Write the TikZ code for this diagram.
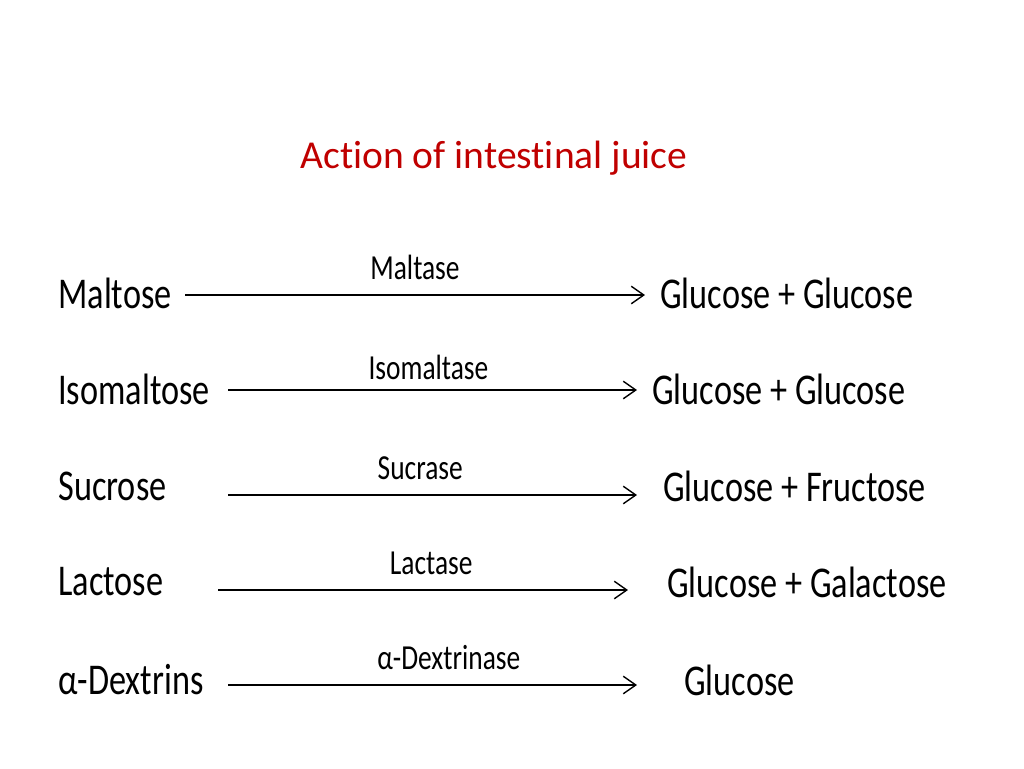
\documentclass[tikz,border=0pt]{standalone}
\usepackage{fontspec}
\setmainfont[Ligatures=NoCommon]{Carlito}
\newfontfamily\narrowfont[FakeStretch=0.78]{Carlito}
\usetikzlibrary{arrows.meta,positioning}
\begin{document}
\begin{tikzpicture}[x=0.02cm,y=-0.02cm,
	sugar/.style={anchor=west,inner sep=0pt,font=\narrowfont\fontsize{25}{28}\selectfont},
	enzyme/.style={above,inner sep=0pt,yshift=0.3cm,font=\narrowfont\fontsize{20}{22}\selectfont},
	react/.style={line width=0.8pt,-{Straight Barb[length=2.5mm,width=3.5mm]}}]
	\useasboundingbox (0,0) rectangle (1024,768);
	\node [text={rgb,255:red,192;green,0;blue,0},font=\fontsize{22.5}{26}\selectfont] (title_node) at (494,158) {Action of intestinal juice};
	% rows
	\node [sugar](maltose_node) at (58,293) {Maltose};
	\node [sugar](maltose_prod) at (660,293) {Glucose + Glucose};
	\coordinate (maltose_a) at (185,295);
	\coordinate (maltose_b) at (645,295);
	\node [sugar](isomaltose_node) at (58,389) {Isomaltose};
	\node [sugar](isomaltose_prod) at (652,389) {Glucose + Glucose};
	\coordinate (isomaltose_a) at (228,390);
	\coordinate (isomaltose_b) at (637,390);
	\node [sugar](sucrose_node) at (58,486) {Sucrose};
	\node [sugar](sucrose_prod) at (663,486) {Glucose + Fructose};
	\coordinate (sucrose_a) at (228,495);
	\coordinate (sucrose_b) at (637,495);
	\node [sugar](lactose_node) at (58,582) {Lactose};
	\node [sugar](lactose_prod) at (667,582) {Glucose + Galactose};
	\coordinate (lactose_a) at (218,590);
	\coordinate (lactose_b) at (628,590);
	\node [sugar](dextrins_node) at (58,680) {α-Dextrins};
	\node [sugar](dextrins_prod) at (684,680) {Glucose};
	\coordinate (dextrins_a) at (228,685);
	\coordinate (dextrins_b) at (637,685);
	\draw [react] (maltose_a) -- node [enzyme, pos=0.5] {Maltase} (maltose_b);
	\draw [react] (isomaltose_a) -- node [enzyme, pos=0.49, yshift=-0.1cm] {Isomaltase} (isomaltose_b);
	\draw [react] (sucrose_a) -- node [enzyme, pos=0.47] {Sucrase} (sucrose_b);
	\draw [react] (lactose_a) -- node [enzyme, pos=0.52] {Lactase} (lactose_b);
	\draw [react] (dextrins_a) -- node [enzyme, pos=0.54] {α-Dextrinase} (dextrins_b);
\end{tikzpicture}
\end{document}
